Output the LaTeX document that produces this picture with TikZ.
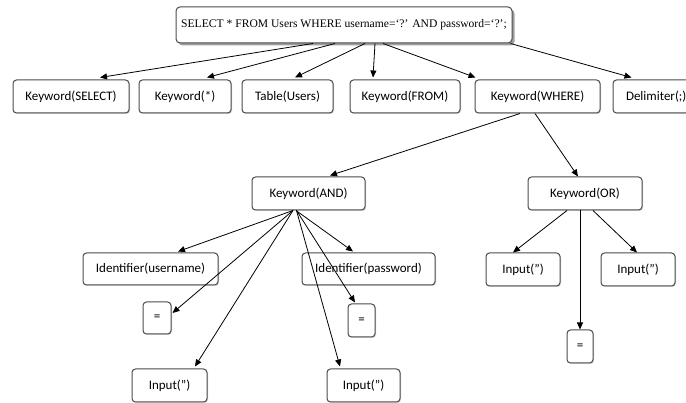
\documentclass[tikz,border=0pt]{standalone}
\usepackage{fontspec}
\setmainfont{Carlito}
\newfontfamily\serifttl{Liberation Serif}
\usetikzlibrary{arrows.meta,shadows,calc}
\tikzset{
  box/.style={draw=black!70, line width=1pt, rounded corners=3.5pt, fill=white,
    inner sep=0pt, font=\fontsize{13}{15}\selectfont,
    drop shadow={shadow xshift=1pt, shadow yshift=-1pt, fill=black!35}},
  topbox/.style={draw=black!70, line width=1pt, rounded corners=4pt, fill=white,
    inner sep=0pt, font=\serifttl\fontsize{11.6}{13}\selectfont,
    drop shadow={shadow xshift=2.5pt, shadow yshift=-2.5pt, fill=black!75}},
  arr/.style={-{Triangle[length=7pt,width=6pt]}, line width=0.8pt, black}
}
\begin{document}
\begin{tikzpicture}[x=1pt,y=-1pt]
\useasboundingbox (0,0) rectangle (686,403);
% top
\node[topbox, minimum width=336pt, minimum height=36pt] (top) at (344,25)
  {SELECT * FROM Users WHERE username=‘?’ AND password=‘?’;};
% row 1
\node[box, minimum width=116pt, minimum height=33pt] (sel) at (71,96.5) {Keyword(SELECT)};
\node[box, minimum width=92pt, minimum height=33pt] (star) at (185,96.5) {Keyword(*)};
\node[box, minimum width=91pt, minimum height=33pt] (users) at (287.5,96.5) {Table(Users)};
\node[box, minimum width=110pt, minimum height=33pt] (from) at (405,96.5) {Keyword(FROM)};
\node[box, minimum width=125pt, minimum height=33pt] (where) at (537.5,96.5) {Keyword(WHERE)};
\node[box, minimum height=33pt, text width=81pt, inner xsep=13pt, align=left] (delim) at (666.5,96.5) {Delimiter(;)};
% row 2
\node[box, minimum width=113pt, minimum height=33pt] (and) at (308.5,193.5) {Keyword(AND)};
\node[box, minimum width=114pt, minimum height=33pt] (or) at (585,193.5) {Keyword(OR)};
% row 3
\node[box, minimum width=135pt, minimum height=32pt] (uname) at (150.5,269) {Identifier(username)};
\node[box, minimum width=133pt, minimum height=32pt] (pword) at (368.5,269) {Identifier(password)};
\node[box, minimum width=74pt, minimum height=33pt] (in1) at (523,269.5) {Input(”)};
\node[box, minimum width=74pt, minimum height=33pt] (in2) at (638,269.5) {Input(”)};
% row 4
\node[box, minimum width=28pt, minimum height=32pt] (eq1) at (157,318) {=};
\node[box, minimum width=27pt, minimum height=33pt] (eq2) at (361.5,320.5) {=};
\node[box, minimum width=26pt, minimum height=33pt] (eq3) at (580,346.5) {=};
\node[box, minimum width=75pt, minimum height=33pt] (in3) at (169.5,385.5) {Input(”)};
\node[box, minimum width=73pt, minimum height=33pt] (in4) at (363.5,385.5) {Input(”)};
% connectors from top
\draw[arr] ([xshift=-31pt]top.south) -- ([xshift=29pt,yshift=2pt]sel.north);
\draw[arr] ([xshift=-9pt]top.south) -- ([xshift=22pt,yshift=2pt]star.north);
\draw[arr] ([xshift=21pt]top.south) -- ([xshift=7.5pt,yshift=2pt]users.north);
\draw[arr] ([xshift=31pt]top.south) -- ([xshift=-32pt,yshift=2pt]from.north);
\draw[arr] ([xshift=39pt]top.south) -- ([xshift=1pt,yshift=2pt]where.north west);
\draw[arr] ([xshift=-2pt]top.south east) -- ([xshift=19pt,yshift=2pt]delim.north west);
% from WHERE
\draw[arr] ([xshift=-17.5pt]where.south) -- ([xshift=21.5pt,yshift=1pt]and.north);
\draw[arr] ([xshift=-2.5pt]where.south) -- ([xshift=-7pt]or.north);
% from AND
\draw[arr] ([xshift=-15.5pt]and.south) -- ([xshift=27.5pt,yshift=1pt]uname.north);
\draw[arr] ([xshift=-12.5pt]and.south) -- ([xshift=-15.5pt,yshift=1pt]pword.north);
\draw[arr] ([xshift=-15.5pt]and.south) -- ([xshift=1pt,yshift=5pt]eq1.east);
\draw[arr] ([xshift=-15.5pt]and.south) -- ([xshift=25.5pt,yshift=2pt]in3.north);
\draw[arr] ([xshift=-12pt]and.south) -- ([xshift=-6.5pt,yshift=1pt]eq2.north);
\draw[arr] ([xshift=-12pt]and.south) -- ([xshift=-23.5pt,yshift=2pt]in4.north);
% from OR
\draw[arr] ([xshift=-18pt]or.south) -- ([xshift=-10pt]in1.north);
\draw[arr] ([xshift=-5pt]or.south) -- (eq3.north);
\draw[arr] ([xshift=8pt]or.south) -- ([xshift=-1pt]in2.north);
\end{tikzpicture}
\end{document}
